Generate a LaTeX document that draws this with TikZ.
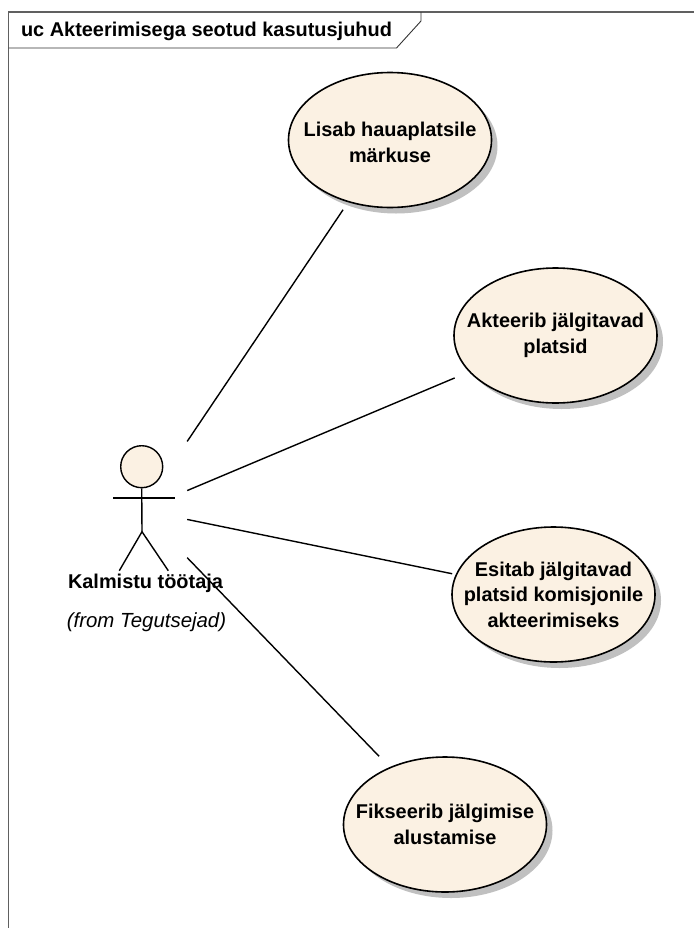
\documentclass[tikz,border=0pt]{standalone}
\usepackage{fontspec}
\setmainfont{Liberation Sans}
\usetikzlibrary{shadows,shapes.geometric}
\definecolor{ucfill}{HTML}{FBF1E3}
\definecolor{shadowgrey}{HTML}{C0C0C0}
\definecolor{framegrey}{HTML}{606060}
\tikzset{
  x=1bp,y=-1bp,
  usecase/.style={ellipse,draw=black,line width=1.6bp,fill=ucfill,minimum width=203bp,minimum height=135bp,inner xsep=-30bp,inner ysep=0pt,align=center,
    font=\fontsize{20}{25.7}\selectfont\bfseries,
    drop shadow={shadow xshift=6bp,shadow yshift=-6bp,fill=shadowgrey,opacity=1}},
  actorbox/.style={rectangle,minimum width=92bp,minimum height=140bp,inner sep=0pt},
  assoc/.style={draw=black,line width=1.4bp},
  stick/.style={draw=black,line width=1.4bp},
  txt/.style={inner sep=0pt,anchor=base},
}
\begin{document}
\begin{tikzpicture}
\useasboundingbox (0,0) rectangle (694,928);
\fill[white] (0,0) rectangle (694,928);
% frame
\draw[framegrey,line width=1.2bp] (8.5,928) -- (8.5,12) -- (694,12);
\draw[black!80,line width=0.9bp] (8.5,48) -- (396.5,48) -- (421,21) -- (421,12);
\node[txt,font=\fontsize{20}{22}\selectfont\bfseries] (title) at (206.5,36) {uc Akteerimisega seotud kasutusjuhud};
% use cases
\node[usecase] (uc1) at (390,140) {\rule{0pt}{19bp}Lisab hauaplatsile\\märkuse};
\node[usecase] (uc2) at (555.5,335.5) {Akteerib jälgitavad\\platsid};
\node[usecase] (uc3) at (553.5,594.5) {Esitab jälgitavad\\platsid komisjonile\\akteerimiseks};
\node[usecase] (uc4) at (445,824.5) {Fikseerib jälgimise\\alustamise};
% actor
\node[actorbox] (actor) at (141,510) {};
\node[circle,draw=black,line width=1.4bp,fill=ucfill,minimum size=42bp,inner sep=0pt] (head) at (141.7,466.7) {};
\coordinate (hip) at (142,531.7);
\coordinate (armL) at (113,498);
\coordinate (armR) at (175,498);
\coordinate (footL) at (119.3,570.7);
\coordinate (footR) at (168.3,570.7);
\draw[stick] (head.south) -- (hip);
\draw[stick] (armL) -- (armR);
\draw[stick] (footL) -- (hip) -- (footR);
\node[txt,font=\fontsize{20}{22}\selectfont\bfseries] (actorname) at (145.5,588) {Kalmistu töötaja};
\node[txt,font=\fontsize{20.5}{22}\selectfont\itshape] (actorfrom) at (146.5,627) {(from Tegutsejad)};
% associations
\draw[assoc,shorten >=9bp] (actor) -- (uc1);
\draw[assoc,shorten >=15.5bp] (actor) -- (uc2);
\draw[assoc,shorten >=3.6bp] (actor) -- (uc3);
\draw[assoc,shorten >=15bp] (actor) -- (uc4);
\end{tikzpicture}
\end{document}
